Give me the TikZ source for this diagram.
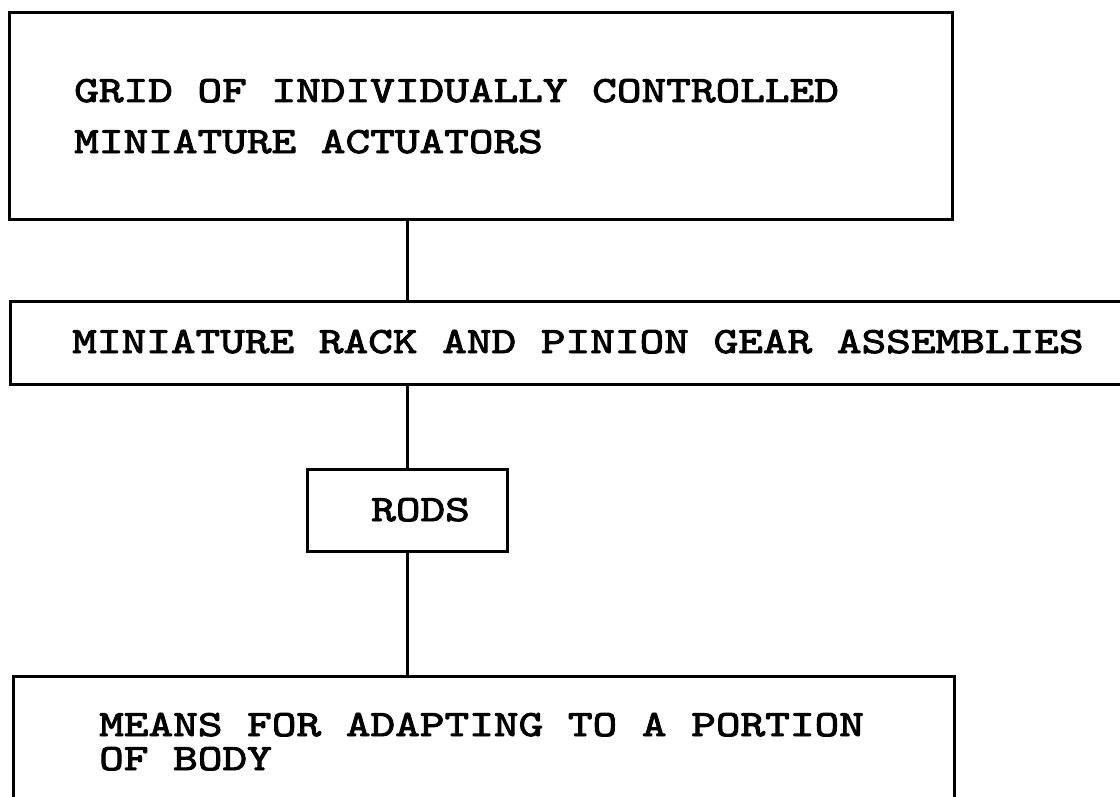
\documentclass[tikz,border=0pt]{standalone}
\usepackage{fontspec}
\newfontfamily\courfont[FakeStretch=1.27,FakeBold=2.6]{lmmono10-regular.otf}
\begin{document}
\begin{tikzpicture}[x=1bp,y=-1bp,
  boxstyle/.style={draw=black,line width=2.6bp,rectangle,inner sep=0pt,anchor=north west},
  txtstyle/.style={anchor=base west,inner sep=0pt,font=\courfont\fontsize{37bp}{44bp}\selectfont},
  linkstyle/.style={draw=black,line width=2.6bp}]
\useasboundingbox[fill=white] (0,0) rectangle (1120,797);
% boxes
\node[boxstyle,minimum width=943bp,minimum height=207bp] (box1) at (8,11) {};
\node[boxstyle,minimum width=1130bp,minimum height=83bp] (box2) at (9,300) {};
\node[boxstyle,minimum width=200bp,minimum height=82bp] (rods) at (306,468) {};
\node[boxstyle,minimum width=941bp,minimum height=140bp] (box4) at (12,675) {};
% texts
\node[txtstyle] (t1a) at (74,102) {GRID OF INDIVIDUALLY CONTROLLED};
\node[txtstyle] (t1b) at (74,153) {MINIATURE ACTUATORS};
\node[txtstyle] (t2) at (72,353) {MINIATURE RACK AND PINION GEAR ASSEMBLIES};
\node[txtstyle] (t3) at (371,521) {RODS};
\node[txtstyle] (t4a) at (99,736) {MEANS FOR ADAPTING TO A PORTION};
\node[txtstyle] (t4b) at (99,770) {OF BODY};
% connectors
\draw[linkstyle] (box1.south -| rods.north) -- (box2.north -| rods.north);
\draw[linkstyle] (box2.south -| rods.north) -- (rods.north);
\draw[linkstyle] (rods.south) -- (box4.north -| rods.south);
\end{tikzpicture}
\end{document}
